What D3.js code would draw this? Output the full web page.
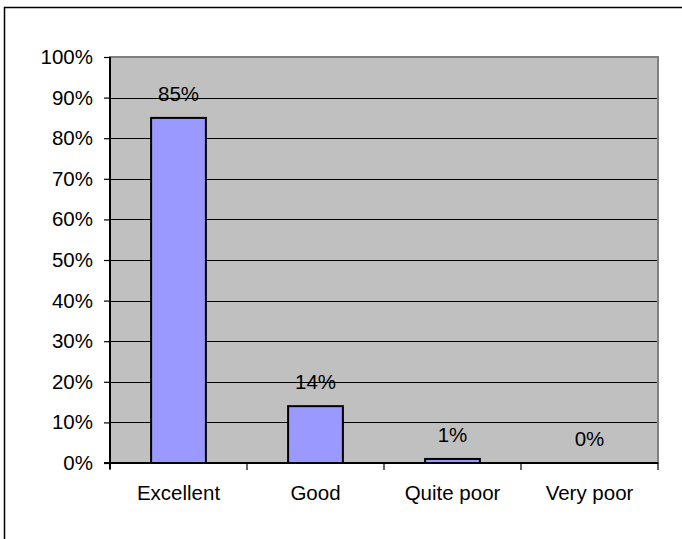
<!DOCTYPE html>
<html>
<head>
<meta charset="utf-8">
<script src="https://cdn.jsdelivr.net/npm/d3@7"></script>
<style>
  html, body { margin: 0; padding: 0; background: #fff; }
  svg { display: block; font-family: "Liberation Sans", Arial, sans-serif; }
</style>
</head>
<body>
<svg id="chart" width="682" height="539"></svg>
<script>
const categories = ["Excellent", "Good", "Quite poor", "Very poor"];
const values = [0.85, 0.14, 0.01, 0.00];
const valueLabels = ["85%", "14%", "1%", "0%"];
const yTicks = [0, 0.1, 0.2, 0.3, 0.4, 0.5, 0.6, 0.7, 0.8, 0.9, 1.0];

(function () {
const svg = d3.select("#chart");
const pLeft = 110, pRight = 658, pTop = 57, pBottom = 463;
const fontSize = 20.5;

// outer frame (left and top edges visible)
svg.append("path")
  .attr("d", "M4.5,539 L4.5,7.5 L682,7.5")
  .attr("fill", "none").attr("stroke", "#000").attr("stroke-width", 1.5);

const x = d3.scaleBand().domain(categories).range([pLeft, pRight])
  .paddingInner(0.6).paddingOuter(0.3);
const y = d3.scaleLinear().domain([0, 1]).range([pBottom, pTop]);

// plot area
svg.append("rect")
  .attr("x", pLeft).attr("y", pTop)
  .attr("width", pRight - pLeft).attr("height", pBottom - pTop)
  .attr("fill", "#c0c0c0").attr("stroke", "#808080").attr("stroke-width", 2);

// gridlines
svg.append("g").selectAll("line")
  .data(yTicks.filter(d => d > 0 && d < 1))
  .join("line")
  .attr("x1", pLeft).attr("x2", pRight - 1)
  .attr("y1", d => Math.round(y(d)) + 0.5).attr("y2", d => Math.round(y(d)) + 0.5)
  .attr("stroke", "#000").attr("stroke-width", 1);

// bars
svg.append("g").selectAll("rect")
  .data(values.map((v, i) => ({ c: categories[i], v })))
  .join("rect")
  .attr("x", d => x(d.c))
  .attr("y", d => y(d.v))
  .attr("width", x.bandwidth())
  .attr("height", d => pBottom - y(d.v))
  .attr("fill", "#9999ff")
  .attr("stroke", "#000").attr("stroke-width", 2);

// value labels
svg.append("g").selectAll("text")
  .data(values.map((v, i) => ({ c: categories[i], v, t: valueLabels[i] })))
  .join("text")
  .attr("x", d => x(d.c) + x.bandwidth() / 2)
  .attr("y", d => y(d.v) - 17)
  .attr("text-anchor", "middle")
  .attr("font-size", fontSize)
  .attr("fill", "#000")
  .text(d => d.t);

// y axis
const yAxis = d3.axisLeft(y).tickValues(yTicks).tickFormat(d3.format(".0%"))
  .tickSize(6).tickPadding(11);
const gy = svg.append("g").attr("transform", `translate(${pLeft},0)`).call(yAxis);
gy.select(".domain").attr("stroke", "#000").attr("stroke-width", 2)
  .attr("d", `M0,${pTop}V${pBottom + 6}`);
gy.selectAll(".tick line").attr("stroke", "#000").attr("stroke-width", 1.2);
gy.selectAll(".tick text").attr("font-size", fontSize)
  .attr("font-family", "Liberation Sans, Arial, sans-serif").attr("fill", "#000");

// x axis
const xAxis = d3.axisBottom(x).tickSize(0).tickPadding(22);
const gx = svg.append("g").attr("transform", `translate(0,${pBottom})`).call(xAxis);
gx.select(".domain").attr("stroke", "#000").attr("stroke-width", 2)
  .attr("d", `M${pLeft - 6},0H${pRight}`);
gx.selectAll(".tick text").attr("font-size", fontSize)
  .attr("font-family", "Liberation Sans, Arial, sans-serif").attr("fill", "#000");

// category boundary ticks
const bounds = d3.range(categories.length + 1).map(i => pLeft + i * (pRight - pLeft) / categories.length);
gx.append("g").selectAll("line").data(bounds).join("line")
  .attr("x1", d => d).attr("x2", d => d)
  .attr("y1", 0).attr("y2", 7)
  .attr("stroke", "#000").attr("stroke-width", 1.2);
})();
</script>
</body>
</html>
